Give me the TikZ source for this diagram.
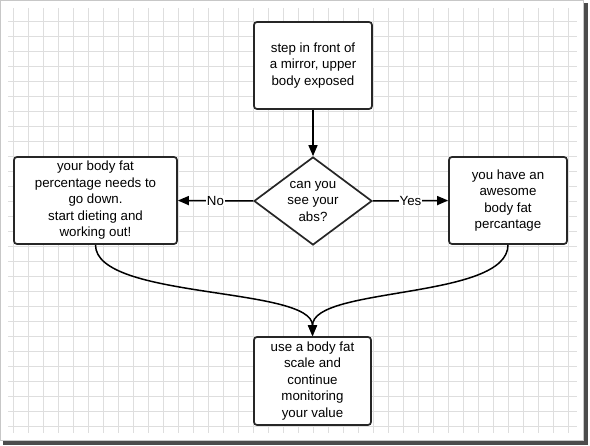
\documentclass[tikz,border=0pt]{standalone}
\usepackage{fontspec}
\setmainfont{Liberation Sans}
\usetikzlibrary{arrows.meta,shapes.geometric}
\begin{document}
\begin{tikzpicture}[x=1pt,y=-1pt,
  txt/.style={font=\fontsize{13.3}{16.5}\selectfont, align=center},
  box/.style={txt, draw=black!85, line width=1.7pt, rounded corners=3pt, inner sep=0pt, fill=white},
  decision/.style={txt, diamond, draw=black!85, line width=1.7pt, inner sep=0pt, aspect=1.34, fill=white},
  conn/.style={line width=1.5pt, black, -{Triangle[length=11pt,width=9pt]}},
  lbl/.style={txt, fill=white, inner sep=1pt},
  gridline/.style={draw=black!13, line width=0.6pt}
]
\useasboundingbox (0,0) rectangle (590,446);
% frame with shadow
\fill[black!70] (3,3) rectangle (588,445);
\filldraw[fill=white, draw=black!22, line width=1pt] (0.5,0.5) rectangle (583,441);
% grid
\foreach \x in {13,28,...,568} \draw[gridline] (\x,8) -- (\x,433);
\foreach \y in {21,36,...,426} \draw[gridline] (8,\y) -- (577,\y);
% nodes
\node[box, minimum width=118pt, minimum height=87pt] (top) at (313,65.5) {step in front of\\a mirror, upper\\body exposed};
\node[decision, minimum width=118pt, minimum height=88pt] (dec) at (313,201) {can you\\see your\\abs?};
\node[box, minimum width=163pt, minimum height=87pt] (left) at (95.5,200.5) {your body fat\\percentage needs to\\go down.\\start dieting and\\working out!};
\node[box, minimum width=118pt, minimum height=87pt] (right) at (508,200.5) {you have an\\awesome\\body fat\\percantage};
\node[box, minimum width=117pt, minimum height=88pt] (bot) at (312.5,381) {use a body fat\\scale and\\continue\\monitoring\\your value};
% connectors
\draw[conn] (top) -- (dec);
\draw[conn] (dec.west) -- node[lbl] {No} (left.east);
\draw[conn] (dec.east) -- node[lbl] {Yes} (right.west);
\draw[conn] (left.south) .. controls +(0,55) and +(0,-50) .. (bot.north);
\draw[conn] (right.south) .. controls +(0,55) and +(0,-50) .. (bot.north);
\end{tikzpicture}
\end{document}
